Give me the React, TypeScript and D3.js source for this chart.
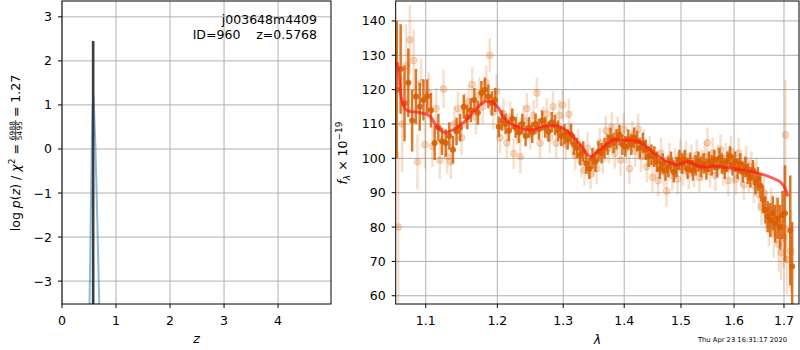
import React, { useEffect, useRef } from "react";
import * as d3 from "d3";

const W = 800;
const H = 350;
const font = "DejaVu Sans, sans-serif";
const fs = "12.5px";

// ---- p(z) panel ----
const pzZ = [0.5, 0.525, 0.55, 0.5768, 0.595, 0.615, 0.64, 0.665, 0.69, 0.71];
const pzLog = [-4.3, -2.2, -0.1, 1.32, 0.85, 0.2, -0.95, -2.2, -3.5, -4.5];
const zBest = 0.5768;
const zBestTop = 2.45;
const zTicks = [0, 1, 2, 3, 4];
const logTicks = [-3, -2, -1, 0, 1, 2, 3];

// ---- spectrum panel ----
const waveTicks = [1.1, 1.2, 1.3, 1.4, 1.5, 1.6, 1.7];
const fluxTicks = [60, 70, 80, 90, 100, 110, 120, 130, 140];

// best-fit model
const modelWave = [
  1.0625, 1.065, 1.0674, 1.0705, 1.0739, 1.08, 1.0924, 1.1058, 1.1139, 1.12, 1.1261,
  1.1371, 1.1511, 1.1652, 1.1794, 1.1895, 1.2003, 1.2084, 1.2188, 1.2489, 1.2688,
  1.2905, 1.3063, 1.3271, 1.3434, 1.3598, 1.3815, 1.3984, 1.4276, 1.4504, 1.4754,
  1.4935, 1.5119, 1.536, 1.5682, 1.5991, 1.6325, 1.6667, 1.6933, 1.7037, 1.7079,
];
const modelFlux = [
  128, 124, 118, 115.5, 114.2, 113.6, 113.3, 112.2, 109.5, 108.2, 107.5,
  108.3, 110.3, 113.3, 116.2, 116.6, 115, 112.2, 110.3, 108.2, 109.3,
  109.4, 107.9, 104, 100.6, 102.5, 105.4, 105.3, 104.6, 101.7, 99,
  98.2, 99, 97.6, 97.7, 97, 96.2, 94.8, 93, 90.9, 88.9,
];

// spectrum, first orient (solid)
const darkWave = [
  1.062, 1.067, 1.072, 1.077, 1.082, 1.087, 1.092, 1.097,
  1.102, 1.107, 1.112, 1.117, 1.122, 1.127, 1.132, 1.137, 1.142, 1.147,
  1.152, 1.157, 1.162, 1.167, 1.172, 1.177, 1.182, 1.187, 1.192, 1.197,
  1.202, 1.207, 1.212, 1.217, 1.222, 1.227, 1.232, 1.237, 1.242, 1.247,
  1.252, 1.257, 1.262, 1.267, 1.272, 1.277, 1.282, 1.287, 1.292, 1.297,
  1.302, 1.307, 1.312, 1.317, 1.322, 1.327, 1.332, 1.337, 1.342, 1.347,
  1.352, 1.357, 1.362, 1.367, 1.372, 1.377, 1.382, 1.387, 1.392, 1.397,
  1.402, 1.407, 1.412, 1.417, 1.422, 1.427, 1.432, 1.437, 1.442, 1.447,
  1.452, 1.457, 1.462, 1.467, 1.472, 1.477, 1.482, 1.487, 1.492, 1.497,
  1.502, 1.507, 1.512, 1.517, 1.522, 1.527, 1.532, 1.537, 1.542, 1.547,
  1.552, 1.557, 1.562, 1.567, 1.572, 1.577, 1.582, 1.587, 1.592, 1.597,
  1.602, 1.607, 1.612, 1.617, 1.622, 1.627, 1.632, 1.637, 1.642, 1.647,
  1.652, 1.657, 1.662, 1.667, 1.672, 1.677, 1.682, 1.687, 1.692, 1.697,
  1.702, 1.713, 1.717,
];
const darkFlux = [
  120, 126, 116, 122, 111, 118, 115, 117,
  118, 114, 104.5, 109, 105, 104.5, 106.5, 102.5, 107.8, 109,
  115, 112, 114, 117, 113.3, 119, 120, 118, 116, 117,
  109.2, 111, 110, 108, 111.5, 109, 107.5, 110, 106.5, 109,
  107.5, 110, 108.5, 111, 109, 107.8, 110.5, 109.7, 108, 106.5,
  107, 105.5, 107, 104, 103, 101, 102, 98.5, 97, 100,
  99, 102, 101.5, 103, 104, 106, 104.5, 105.5, 106.8, 104,
  103.5, 105.5, 104, 106, 105, 103, 104.5, 102.5, 100.5, 101,
  100.5, 99, 97, 98.5, 96.5, 97.5, 99, 96, 97.5, 99.5,
  98.5, 99.5, 97, 98.7, 96.5, 98, 99, 97.5, 98.5, 96.8,
  99, 98, 99.5, 97.5, 100, 98.5, 97, 99, 100.5, 98,
  99, 97, 98.5, 96, 97.5, 95.5, 94.5, 96.5, 93, 94,
  92, 88, 85, 83, 82, 84, 81, 82.5, 80, 83.5,
  84, 79, 68.5,
];
const darkErr = [
  20, 13, 11, 10, 9, 8, 7, 6,
  5, 5, 5, 4, 4, 4, 4, 4, 4, 4,
  3.5, 3.5, 3.5, 3.5, 3.5, 3.5, 3.5, 3.5, 3.5, 3.5,
  3, 3, 3, 3, 3, 3, 3, 3, 3, 3,
  3, 3, 3, 3, 3, 3, 3, 3, 3, 3,
  3, 3, 3, 3, 3, 3, 3, 3, 3, 3,
  3, 3, 3, 3, 3, 3, 3, 3, 3, 3,
  3, 3, 3, 3, 3, 3, 3, 3, 3, 3,
  3, 3, 3, 3, 3, 3, 3, 3, 3, 3,
  3, 3, 3, 3, 3, 3, 3, 3, 3, 3,
  3, 3, 3, 3, 3, 3, 3, 3, 3, 3,
  3, 3, 3, 3, 3, 3, 3, 3, 3.5, 3.5,
  3.5, 4, 4, 4.5, 5, 5, 5.5, 6, 6.5, 7,
  14, 16, 13,
];

// spectrum, second orient (faint)
const lightWave = [
  1.064, 1.069, 1.074, 1.079, 1.084, 1.089, 1.094, 1.099, 1.104, 1.109,
  1.114, 1.119, 1.124, 1.129, 1.134, 1.139, 1.144, 1.149, 1.154, 1.159,
  1.164, 1.169, 1.174, 1.179, 1.184, 1.189, 1.194, 1.199, 1.204, 1.209,
  1.214, 1.219, 1.224, 1.229, 1.234, 1.239, 1.244, 1.249, 1.254, 1.259,
  1.264, 1.269, 1.274, 1.279, 1.284, 1.289, 1.294, 1.299, 1.304, 1.309,
  1.314, 1.319, 1.324, 1.329, 1.334, 1.339, 1.344, 1.349, 1.354, 1.359,
  1.364, 1.369, 1.374, 1.379, 1.384, 1.389, 1.394, 1.399, 1.404, 1.409,
  1.414, 1.419, 1.424, 1.429, 1.434, 1.439, 1.444, 1.449, 1.454, 1.459,
  1.464, 1.469, 1.474, 1.479, 1.484, 1.489, 1.494, 1.499, 1.504, 1.509,
  1.514, 1.519, 1.524, 1.529, 1.534, 1.539, 1.544, 1.549, 1.554, 1.559,
  1.564, 1.569, 1.574, 1.579, 1.584, 1.589, 1.594, 1.599, 1.604, 1.609,
  1.614, 1.619, 1.624, 1.629, 1.634, 1.639, 1.644, 1.649, 1.654, 1.659,
  1.664, 1.669, 1.674, 1.679, 1.684, 1.689, 1.694, 1.699, 1.703, 1.706,
  1.714,
];
const lightFlux = [
  80, 110, 127, 134.5, 128.5, 99, 122, 104, 119, 103.5,
  114.5, 99.5, 120.2, 100.5, 99, 110, 114.5, 106, 114, 116.5,
  121.5, 112, 118.5, 115, 122, 130, 113.5, 119.5, 106, 113,
  104.5, 112, 101.4, 108.5, 100.5, 111, 114.5, 107, 112.5, 119,
  104.5, 110.5, 113, 106, 115, 104.5, 112.5, 115.5, 104, 112.8,
  106, 101, 104, 99, 96.5, 103, 95.5, 99, 97, 104.5,
  100, 108, 103, 109, 101.5, 107.5, 99.5, 108.5, 103, 97,
  106.5, 102, 108.5, 100.5, 104, 97.5, 102, 94.5, 99, 93.5,
  101.5, 96, 90.5, 100, 95, 98.5, 94, 101, 96.5, 100.5,
  95.5, 99.5, 96, 101, 94.5, 98, 100.5, 104.5, 96, 101.5,
  95, 99.5, 102.5, 96.5, 100, 93.5, 102, 97, 94, 101.5,
  96.5, 92.3, 99, 94.5, 97.5, 92, 95, 89.5, 86, 90,
  84.5, 80.5, 85, 78, 82, 75, 72.5, 77, 106.8, 70.5,
  73,
];
const lightErr = [
  22, 14, 12, 10, 9, 8, 7, 7, 6, 6,
  6, 5.5, 5.5, 5, 5, 5, 5, 5, 5, 5,
  5, 5, 5, 5, 5, 5, 5, 5, 4.5, 4.5,
  4.5, 4.5, 4.5, 4.5, 5, 4.5, 4.5, 4.5, 4.5, 4.5,
  4.5, 4.5, 4.5, 4.5, 4.5, 4.5, 4.5, 4.5, 4.5, 4.5,
  4.5, 4.5, 4.5, 4.5, 4.5, 4.5, 4.5, 4.5, 4.5, 4.5,
  4.5, 4.5, 4.5, 4.5, 4.5, 4.5, 4.5, 4.5, 4.5, 4.5,
  4.5, 4.5, 4.5, 4.5, 4.5, 4.5, 4.5, 4.5, 4.5, 4.5,
  4.5, 4.5, 4.5, 4.5, 4.5, 4.5, 4.5, 4.5, 4.5, 4.5,
  4.5, 4.5, 4.5, 4.5, 4.5, 4.5, 4.5, 4.5, 4.5, 4.5,
  4.5, 4.5, 4.5, 4.5, 4.5, 4.5, 4.5, 4.5, 4.5, 4.5,
  4.5, 4.5, 4.5, 4.5, 4.5, 5, 5, 5, 5.5, 5.5,
  6, 6, 6.5, 7, 7, 8, 8, 9, 16, 10,
  12,
];

const specColor = "#d95f02";
const gridColor = "#b0b0b0";

const App = () => {
  const ref = useRef<SVGSVGElement>(null);

  useEffect(() => {
    drawGraph();
  }, []);

  const drawGraph = () => {
    const svg = d3.select(ref.current);
    svg.selectAll("*").remove();
    svg.style("font-family", font);

    svg.append("rect").attr("width", W).attr("height", H).attr("fill", "white");

    // ---------- left: p(z) ----------
    const L = { x0: 62, x1: 331, y0: 1, y1: 304 };
    const zx = d3.scaleLinear().domain([0, 4.98]).range([L.x0, L.x1]);
    const zy = d3.scaleLinear().domain([-3.52, 3.36]).range([L.y1, L.y0]);

    svg
      .append("clipPath")
      .attr("id", "clipL")
      .append("rect")
      .attr("x", L.x0)
      .attr("y", L.y0)
      .attr("width", L.x1 - L.x0)
      .attr("height", L.y1 - L.y0);

    const gl = svg.append("g");
    drawGrid(gl, zTicks.map(zx), logTicks.map(zy), L);

    const pl = gl.append("g").attr("clip-path", "url(#clipL)");
    const pz = pzZ.map((z, i) => ({ z, v: pzLog[i] }));
    pl.append("path")
      .datum(pz)
      .attr(
        "d",
        d3
          .line<{ z: number; v: number }>()
          .x((d) => zx(d.z))
          .y((d) => zy(d.v))
          .curve(d3.curveCatmullRom)
      )
      .attr("fill", "none")
      .attr("stroke", "#1f77b4")
      .attr("stroke-opacity", 0.5)
      .attr("stroke-width", 2);

    pl.append("line")
      .attr("x1", zx(zBest))
      .attr("x2", zx(zBest))
      .attr("y1", zy(-3.52))
      .attr("y2", zy(zBestTop))
      .attr("stroke", "#333333")
      .attr("stroke-opacity", 0.95)
      .attr("stroke-width", 2.6);

    drawAxes(
      gl,
      L,
      zTicks.map((t) => ({ p: zx(t), s: String(t) })),
      logTicks.map((t) => ({ p: zy(t), s: t < 0 ? "\u2212" + Math.abs(t) : String(t) }))
    );

    gl.append("text")
      .attr("x", 317)
      .attr("y", 23.5)
      .attr("text-anchor", "end")
      .style("font-size", fs)
      .text("j003648m4409");
    gl.append("text")
      .attr("x", 317)
      .attr("y", 38.5)
      .attr("text-anchor", "end")
      .style("font-size", fs)
      .style("white-space", "pre")
      .text("ID=960    z=0.5768");

    gl.append("text")
      .attr("x", (L.x0 + L.x1) / 2)
      .attr("y", 343)
      .attr("text-anchor", "middle")
      .style("font-size", fs)
      .style("font-style", "italic")
      .text("z");

    // y label with chi2 fraction
    const yl = gl.append("g").style("font-size", fs);
    const t1 = yl.append("text").attr("x", 0).attr("y", 0);
    t1.append("tspan").text("log ");
    t1.append("tspan").style("font-style", "italic").text("p");
    t1.append("tspan").text("(");
    t1.append("tspan").style("font-style", "italic").text("z");
    t1.append("tspan").text(") / ");
    t1.append("tspan").style("font-style", "italic").text("\u03c7");
    t1.append("tspan").attr("dy", -5).style("font-size", "9px").text("2");
    t1.append("tspan").attr("dy", 5).text(" =");
    const w1 = (t1.node() as SVGTextElement).getComputedTextLength();
    const fx0 = w1 + 3;
    const fw = 21;
    yl.append("text")
      .attr("x", fx0 + fw / 2)
      .attr("y", -5.4)
      .attr("text-anchor", "middle")
      .style("font-size", "7.5px")
      .text("6988");
    yl.append("line")
      .attr("x1", fx0)
      .attr("x2", fx0 + fw)
      .attr("y1", -4.3)
      .attr("y2", -4.3)
      .attr("stroke", "black")
      .attr("stroke-width", 0.7);
    const t3 = yl
      .append("text")
      .attr("x", fx0 + fw + 3)
      .attr("y", 0)
      .text("= 1.27");
    yl.append("text")
      .attr("x", fx0 + fw / 2)
      .attr("y", 1.8)
      .attr("text-anchor", "middle")
      .style("font-size", "7.5px")
      .text("5495");
    const total = fx0 + fw + 3 + (t3.node() as SVGTextElement).getComputedTextLength();
    yl.attr("transform", `translate(20,${153 + total / 2}) rotate(-90)`);

    // ---------- right: spectrum ----------
    const R = { x0: 395.7, x1: 799, y0: 1, y1: 304 };
    const wx = d3.scaleLog().domain([1.0606, 1.7313]).range([R.x0, R.x1]);
    const fy = d3.scaleLinear().domain([57.6, 145.8]).range([R.y1, R.y0]);

    svg
      .append("clipPath")
      .attr("id", "clipR")
      .append("rect")
      .attr("x", R.x0)
      .attr("y", R.y0)
      .attr("width", R.x1 - R.x0)
      .attr("height", R.y1 - R.y0);

    const gr = svg.append("g");
    drawGrid(gr, waveTicks.map(wx), fluxTicks.map(fy), R);

    const pr = gr.append("g").attr("clip-path", "url(#clipR)");

    const light = lightWave.map((w, i) => ({ w, f: lightFlux[i], e: lightErr[i] }));
    const dark = darkWave.map((w, i) => ({ w, f: darkFlux[i], e: darkErr[i] }));

    // faint orient: error bars + markers
    pr.append("g")
      .selectAll("line")
      .data(light)
      .enter()
      .append("line")
      .attr("x1", (d) => wx(d.w))
      .attr("x2", (d) => wx(d.w))
      .attr("y1", (d) => fy(d.f - d.e))
      .attr("y2", (d) => fy(d.f + d.e))
      .attr("stroke", specColor)
      .attr("stroke-opacity", 0.2)
      .attr("stroke-width", 2.5);
    pr.append("g")
      .selectAll("circle")
      .data(light)
      .enter()
      .append("circle")
      .attr("cx", (d) => wx(d.w))
      .attr("cy", (d) => fy(d.f))
      .attr("r", 3.4)
      .attr("fill", specColor)
      .attr("fill-opacity", 0.22)
      .attr("stroke", specColor)
      .attr("stroke-opacity", 0.2);

    // solid orient
    pr.append("g")
      .selectAll("line")
      .data(dark)
      .enter()
      .append("line")
      .attr("x1", (d) => wx(d.w))
      .attr("x2", (d) => wx(d.w))
      .attr("y1", (d) => fy(d.f - d.e))
      .attr("y2", (d) => fy(d.f + d.e))
      .attr("stroke", specColor)
      .attr("stroke-opacity", 0.85)
      .attr("stroke-width", 2.5);
    pr.append("g")
      .selectAll("circle")
      .data(dark)
      .enter()
      .append("circle")
      .attr("cx", (d) => wx(d.w))
      .attr("cy", (d) => fy(d.f))
      .attr("r", 3)
      .attr("fill", specColor)
      .attr("fill-opacity", 0.9);

    // model
    const model = modelWave.map((w, i) => ({ w, f: modelFlux[i] }));
    pr.append("path")
      .datum(model)
      .attr(
        "d",
        d3
          .line<{ w: number; f: number }>()
          .x((d) => wx(d.w))
          .y((d) => fy(d.f))
          .curve(d3.curveCatmullRom)
      )
      .attr("fill", "none")
      .attr("stroke", "#ff1a1a")
      .attr("stroke-opacity", 0.7)
      .attr("stroke-width", 3)
      .attr("stroke-linejoin", "round");

    drawAxes(
      gr,
      R,
      waveTicks.map((t) => ({ p: wx(t), s: t.toFixed(1) })),
      fluxTicks.map((t) => ({ p: fy(t), s: String(t) }))
    );

    gr.append("text")
      .attr("x", (R.x0 + R.x1) / 2)
      .attr("y", 344)
      .attr("text-anchor", "middle")
      .style("font-size", fs)
      .style("font-style", "italic")
      .text("\u03bb");

    const yr = gr
      .append("text")
      .attr("transform", "translate(347,153) rotate(-90)")
      .attr("text-anchor", "middle")
      .style("font-size", fs);
    yr.append("tspan").style("font-style", "italic").text("f");
    yr.append("tspan").attr("dy", 3).style("font-size", "9px").style("font-style", "italic").text("\u03bb");
    yr.append("tspan").attr("dy", -3).text(" \u00d7 10");
    yr.append("tspan").attr("dy", -5).style("font-size", "9px").text("\u221219");

    svg
      .append("text")
      .attr("x", 787)
      .attr("y", 341.5)
      .attr("text-anchor", "end")
      .style("font-size", "6.75px")
      .text("Thu Apr 23 16:31:17 2020");
  };

  const drawGrid = (g, xs: number[], ys: number[], box) => {
    xs.forEach((x) => {
      g.append("line")
        .attr("x1", x)
        .attr("x2", x)
        .attr("y1", box.y0)
        .attr("y2", box.y1)
        .attr("stroke", gridColor)
        .attr("stroke-width", 1);
    });
    ys.forEach((y) => {
      g.append("line")
        .attr("x1", box.x0)
        .attr("x2", box.x1)
        .attr("y1", y)
        .attr("y2", y)
        .attr("stroke", gridColor)
        .attr("stroke-width", 1);
    });
  };

  const drawAxes = (g, box, xt: { p: number; s: string }[], yt: { p: number; s: string }[]) => {
    xt.forEach((t) => {
      g.append("line")
        .attr("x1", t.p)
        .attr("x2", t.p)
        .attr("y1", box.y1)
        .attr("y2", box.y1 + 4)
        .attr("stroke", "black")
        .attr("stroke-width", 1);
      g.append("text")
        .attr("x", t.p)
        .attr("y", 325)
        .attr("text-anchor", "middle")
        .style("font-size", fs)
        .text(t.s);
    });
    yt.forEach((t) => {
      g.append("line")
        .attr("x1", box.x0 - 4)
        .attr("x2", box.x0)
        .attr("y1", t.p)
        .attr("y2", t.p)
        .attr("stroke", "black")
        .attr("stroke-width", 1);
      g.append("text")
        .attr("x", box.x0 - 10)
        .attr("y", t.p)
        .attr("dy", "0.36em")
        .attr("text-anchor", "end")
        .style("font-size", fs)
        .text(t.s);
    });
    g.append("rect")
      .attr("x", box.x0)
      .attr("y", box.y0)
      .attr("width", box.x1 - box.x0)
      .attr("height", box.y1 - box.y0)
      .attr("fill", "none")
      .attr("stroke", "black")
      .attr("stroke-width", 1);
  };

  return (
    <svg
      ref={ref}
      width={W}
      height={H}
      style={{ position: "absolute", left: 0, top: 0, display: "block" }}
    />
  );
};

export default App;
